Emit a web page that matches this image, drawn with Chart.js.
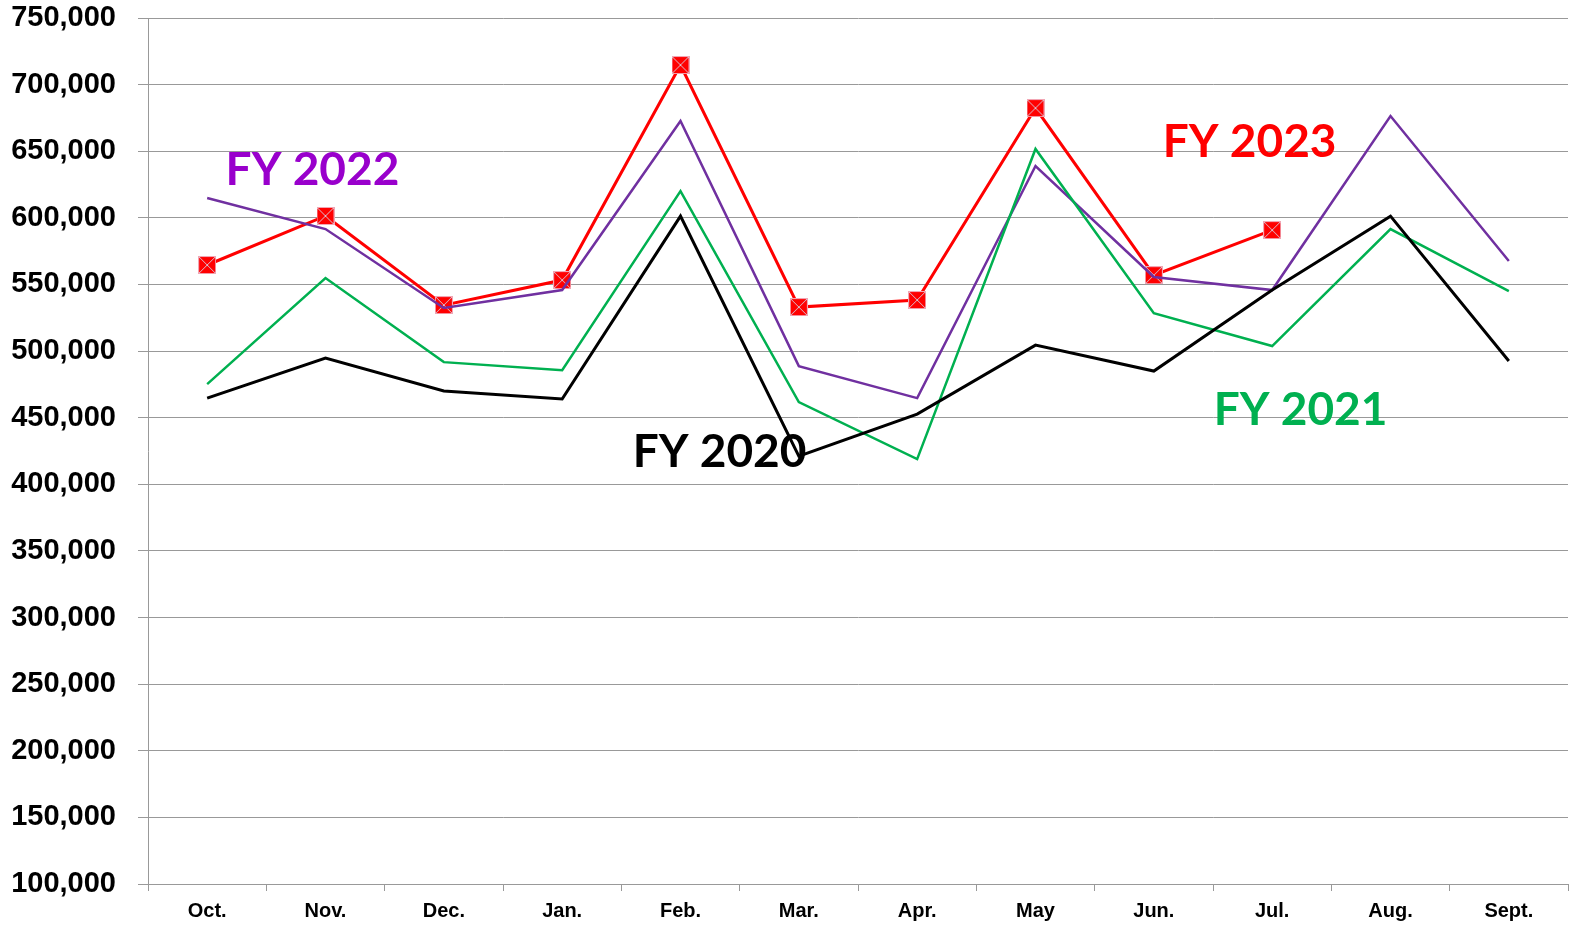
<!DOCTYPE html>
<html>
<head>
<meta charset="utf-8">
<script src="https://cdn.jsdelivr.net/npm/chart.js@4.4.1/dist/chart.umd.min.js"></script>
<style>
  html, body { margin: 0; padding: 0; background: #fff; overflow: hidden; }
  #chart { display: block; }
</style>
</head>
<body>
<canvas id="chart" width="1569" height="925"></canvas>
<script>
// months of the fiscal year
const months = ['Oct.', 'Nov.', 'Dec.', 'Jan.', 'Feb.', 'Mar.', 'Apr.', 'May', 'Jun.', 'Jul.', 'Aug.', 'Sept.'];

// values
const fy2020 = [464700, 494700, 470000, 464000, 601300, 421200, 452700, 504500, 485000, 545800, 601300, 492500];
const fy2021 = [475200, 554800, 491700, 485700, 620100, 461700, 418900, 651700, 528500, 503800, 591600, 545000];
const fy2022 = [614900, 591600, 532300, 545800, 672700, 488700, 464700, 638900, 555600, 545800, 676400, 567600];
const fy2023 = [564600, 601400, 534500, 553300, 714700, 533000, 538300, 682400, 557000, 590800, null, null];

// y axis range
const yMin = 100000;
const yMax = 750000;
const yStep = 50000;

// series name labels, anchored as (category index, value)
const seriesNames = ['FY 2020', 'FY 2021', 'FY 2022', 'FY 2023'];
const nameAnchorIdx = [4.33, 9.24, 0.89, 8.81];
const nameAnchorVal = [424200, 455700, 635900, 656900];
const nameColors = ['#000000', '#00B050', '#9900CC', '#FF0000'];

// red square marker with a thin light cross
function makeMarker() {
  const s = 18;
  const c = document.createElement('canvas');
  c.width = s; c.height = s;
  const g = c.getContext('2d');
  g.fillStyle = '#FF0000';
  g.fillRect(0, 0, s, s);
  g.strokeStyle = '#F2A6B4';
  g.lineWidth = 1;
  g.strokeRect(0.5, 0.5, s - 1, s - 1);
  g.beginPath();
  g.moveTo(1, 1); g.lineTo(s - 1, s - 1);
  g.moveTo(s - 1, 1); g.lineTo(1, s - 1);
  g.strokeStyle = '#D9C0D0';
  g.stroke();
  return c;
}
const marker = makeMarker();

// draw the FY labels in data space
const seriesLabelPlugin = {
  id: 'seriesLabels',
  afterDatasetsDraw(chart) {
    const ctx = chart.ctx;
    const xs = chart.scales.x, ys = chart.scales.y;
    ctx.save();
    ctx.font = 'bold 46px Lato, "Open Sans", sans-serif';
    ctx.textAlign = 'center';
    ctx.textBaseline = 'middle';
    for (let i = 0; i < seriesNames.length; i++) {
      const idx = nameAnchorIdx[i];
      const lo = Math.floor(idx);
      const x = xs.getPixelForValue(lo) + (idx - lo) * (xs.getPixelForValue(lo + 1) - xs.getPixelForValue(lo));
      const y = ys.getPixelForValue(nameAnchorVal[i]);
      ctx.fillStyle = nameColors[i];
      ctx.fillText(seriesNames[i], x, y);
    }
    ctx.restore();
  }
};

const ctx = document.getElementById('chart').getContext('2d');
new Chart(ctx, {
  type: 'line',
  data: {
    labels: months,
    datasets: [
      { label: 'FY 2020', data: fy2020, borderColor: '#000000', borderWidth: 3, pointRadius: 0, tension: 0 },
      { label: 'FY 2021', data: fy2021, borderColor: '#00B050', borderWidth: 2.5, pointRadius: 0, tension: 0 },
      { label: 'FY 2022', data: fy2022, borderColor: '#7030A0', borderWidth: 2.5, pointRadius: 0, tension: 0 },
      { label: 'FY 2023', data: fy2023, borderColor: '#FF0000', borderWidth: 3, pointStyle: marker, pointRadius: 9, tension: 0, spanGaps: false }
    ]
  },
  options: {
    responsive: false,
    animation: false,
    layout: { autoPadding: false, padding: { top: 18, right: 1, left: 0, bottom: 0 } },
    plugins: {
      legend: { display: false },
      tooltip: { enabled: false }
    },
    scales: {
      x: {
        offset: true,
        grid: { drawOnChartArea: false, drawTicks: true, tickLength: 7, color: '#999999', offset: true },
        border: { color: '#999999', width: 1 },
        ticks: {
          color: '#000',
          padding: 8,
          maxRotation: 0,
          font: { family: '"Liberation Sans Narrow", "Arial Narrow", "Liberation Sans", sans-serif', weight: 'bold', size: 20 }
        },
        afterFit(s) { s.height = 41; s.paddingLeft = 0; s.paddingRight = 0; }
      },
      y: {
        min: yMin,
        max: yMax,
        grid: { color: '#999999', lineWidth: 1, tickLength: 10 },
        border: { color: '#999999', width: 1 },
        ticks: {
          stepSize: yStep,
          color: '#000',
          padding: 22,
          font: { family: '"Liberation Sans", Arial, sans-serif', weight: 'bold', size: 29 },
          callback: (v) => v.toLocaleString('en-US')
        },
        afterFit(s) { s.width = 148; s.paddingTop = 0; s.paddingBottom = 0; }
      }
    }
  },
  plugins: [seriesLabelPlugin]
});
</script>
</body>
</html>
